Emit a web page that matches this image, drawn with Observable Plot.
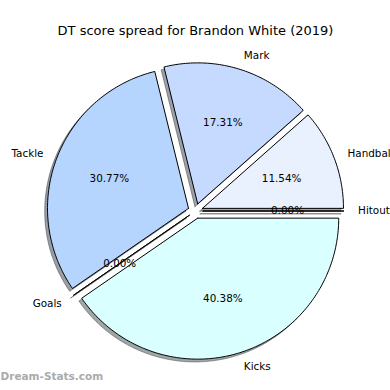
<!DOCTYPE html>
<html><head><meta charset="utf-8">
<script src="https://cdn.jsdelivr.net/npm/d3@7"></script>
<script src="https://cdn.jsdelivr.net/npm/@observablehq/plot@0.6"></script>
<style>body{margin:0;background:#fff}</style>
</head><body><div id="chart"></div>
<script>
const title = "DT score spread for Brandon White (2019)";
const watermark = "Dream-Stats.com";
const labels = ["Handball", "Mark", "Tackle", "Goals", "Kicks", "Hitout"];
const values = [6, 9, 16, 0, 21, 0];
const colors = ["#e9f1ff", "#c6d9ff", "#b5d5ff", "#ffe0c0", "#d9ffff", "#e0e0e0"];

const explode = 0.053;
const total = d3.sum(values);
let acc = 0;
const slices = labels.map((label, i) => {
  const a0 = acc / total * 2 * Math.PI;
  acc += values[i];
  const a1 = acc / total * 2 * Math.PI;
  const mid = (a0 + a1) / 2;
  const cx = explode * Math.cos(mid), cy = explode * Math.sin(mid);
  return {label, value: values[i], color: colors[i], a0, a1, mid, cx, cy,
    pct: (values[i] / total * 100).toFixed(2) + "%",
    lx: cx + 1.1 * Math.cos(mid), ly: cy + 1.1 * Math.sin(mid),
    px: cx + 0.6 * Math.cos(mid), py: cy + 0.6 * Math.sin(mid)};
});
function outline(s) {
  const pts = [{x: s.cx, y: s.cy}];
  const n = Math.max(1, Math.ceil((s.a1 - s.a0) / (Math.PI / 180)));
  for (let k = 0; k <= n; k++) {
    const a = s.a0 + (s.a1 - s.a0) * k / n;
    pts.push({x: s.cx + Math.cos(a), y: s.cy + Math.sin(a)});
  }
  pts.push({x: s.cx, y: s.cy});
  return pts;
}
function shadowColor(c) {
  const r = d3.rgb(c);
  return d3.rgb(r.r * 0.3, r.g * 0.3, r.b * 0.3).formatHex();
}
const shadows = slices.map(s => Plot.line(outline(s), {
  x: "x", y: "y", fill: shadowColor(s.color), stroke: shadowColor(s.color),
  fillOpacity: 0.5, strokeOpacity: 0.5, strokeWidth: 1, dx: -2.8, dy: 2.8,
  strokeLinejoin: "miter"
}));
const wedges = slices.map(s => Plot.line(outline(s), {
  x: "x", y: "y", fill: s.color, stroke: "black", strokeWidth: 1, strokeLinejoin: "miter"
}));

const chart = Plot.plot({
  width: 390, height: 390, margin: 0,
  x: {domain: [-1.383, 1.383], axis: null},
  y: {domain: [-1.273, 1.493], axis: null},
  style: {fontFamily: "DejaVu Sans", background: "white", color: "black"},
  marks: [
    ...shadows,
    ...wedges,
    Plot.text(slices.filter(s => s.lx >= 0), {x: "lx", y: "ly", text: "label", textAnchor: "start", fontSize: 10.4, fill: "black"}),
    Plot.text(slices.filter(s => s.lx < 0), {x: "lx", y: "ly", text: "label", textAnchor: "end", fontSize: 10.4, fill: "black"}),
    Plot.text(slices, {x: "px", y: "py", text: "pct", fontSize: 10.4, fill: "black"}),
    Plot.text([title], {frameAnchor: "top", dy: 25.3, fontSize: 13, fill: "black"}),
    Plot.text([watermark], {frameAnchor: "bottom-left", textAnchor: "start", dy: -11, fontSize: 10.5, fontWeight: "bold", fill: "#aaaaaa"})
  ]
});
document.getElementById("chart").append(chart);
</script>
</body></html>
